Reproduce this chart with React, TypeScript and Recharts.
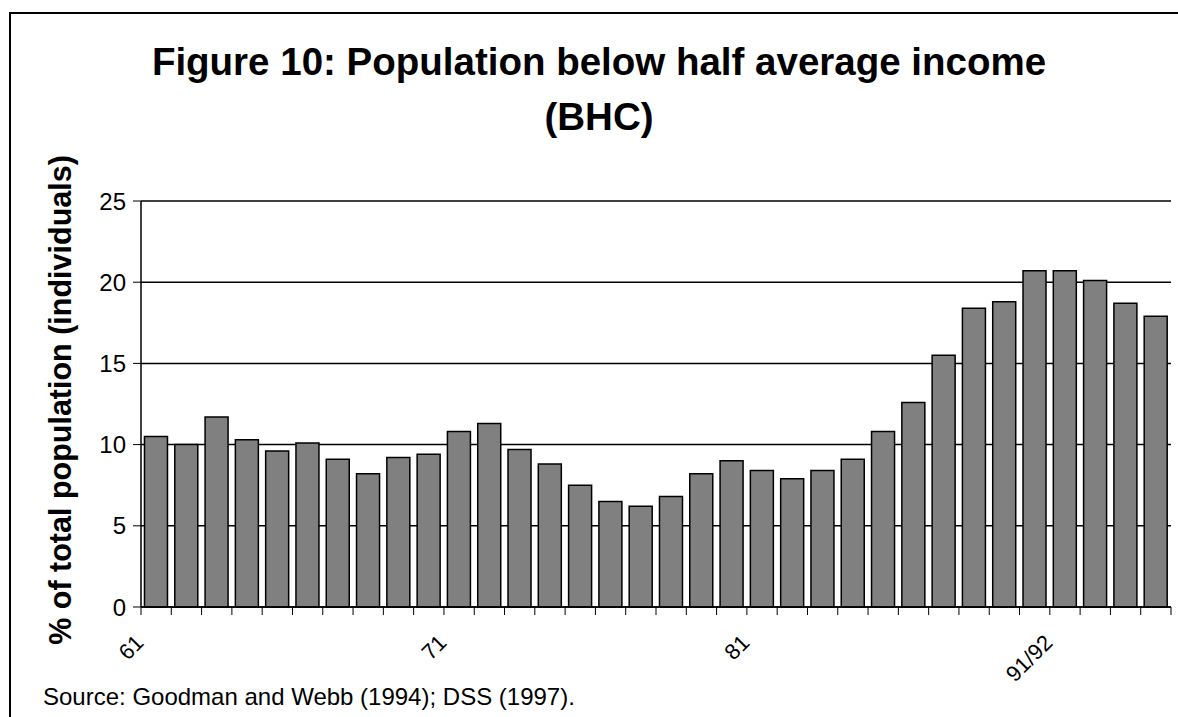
import React from 'react';
import { BarChart, Bar, XAxis, YAxis, CartesianGrid } from 'recharts';

const years = [
  '61', '62', '63', '64', '65', '66', '67', '68', '69', '70',
  '71', '72', '73', '74', '75', '76', '77', '78', '79', '80',
  '81', '82', '83', '84', '85', '86', '87', '88', '89', '90',
  '91/92', '92/93', '93/94', '94/95',
];

// % of total population (individuals), below half average income (BHC)
const belowHalf = [
  10.5, 10.0, 11.7, 10.3, 9.6, 10.1, 9.1, 8.2, 9.2, 9.4,
  10.8, 11.3, 9.7, 8.8, 7.5, 6.5, 6.2, 6.8, 8.2, 9.0,
  8.4, 7.9, 8.4, 9.1, 10.8, 12.6, 15.5, 18.4, 18.8, 20.7,
  20.7, 20.1, 18.7, 17.9,
];

const yTicks = [0, 5, 10, 15, 20, 25];
const shownYears = ['61', '71', '81', '91/92'];

const data = years.map((year, i) => ({ year, value: belowHalf[i] }));

const FONT = "Arial, 'Liberation Sans', sans-serif";
const W = 1178;
const H = 717;
const M = { top: 201, right: 7, bottom: 80, left: 81 };
const Y_AXIS_W = 60;
const PLOT_W = W - M.left - M.right - Y_AXIS_W;
const BAND = PLOT_W / years.length;

// ticks sit on the category boundaries, labels hang off them at 45 degrees
const YearTick = (props: any) => {
  const { x, y, payload, index } = props;
  const left = x - BAND / 2;
  const lx = left + 4;
  const ly = y + 37;
  return (
    <g>
      <line x1={left} y1={y} x2={left} y2={y + 8} stroke="#000" strokeWidth={1} />
      {index === years.length - 1 && (
        <line x1={x + BAND / 2} y1={y} x2={x + BAND / 2} y2={y + 8} stroke="#000" strokeWidth={1} />
      )}
      {shownYears.includes(payload.value) && (
        <text
          x={lx}
          y={ly}
          textAnchor="end"
          transform={`rotate(-45, ${lx}, ${ly})`}
          fontFamily={FONT}
          fontSize={22}
          fill="#000"
        >
          {payload.value}
        </text>
      )}
    </g>
  );
};

export default function App() {
  return (
    <div style={{ position: 'absolute', left: 0, top: 0, width: W, height: H, overflow: 'hidden', background: '#fff' }}>
      {/* outer frame */}
      <div style={{ position: 'absolute', left: 9, top: 12, width: 1300, height: 900, border: '2px solid #000', boxSizing: 'border-box' }} />

      <svg width={W} height={H} style={{ position: 'absolute', left: 0, top: 0 }}>
        <text x={599} y={75} textAnchor="middle" fontFamily={FONT} fontWeight="bold" fontSize={38.5} fill="#000">
          Figure 10: Population below half average income
        </text>
        <text x={599} y={130} textAnchor="middle" fontFamily={FONT} fontWeight="bold" fontSize={38.5} fill="#000">
          (BHC)
        </text>
        <text
          x={71}
          y={400}
          textAnchor="middle"
          transform="rotate(-90, 71, 400)"
          fontFamily={FONT}
          fontWeight="bold"
          fontSize={30.5}
          fill="#000"
        >
          % of total population (individuals)
        </text>
        <text x={43} y={705} fontFamily={FONT} fontSize={24} fill="#000">
          Source: Goodman and Webb (1994); DSS (1997).
        </text>
      </svg>

      <div style={{ position: 'absolute', left: 0, top: 0 }}>
        <BarChart width={W} height={H} data={data} margin={M} barCategoryGap="11.5%">
          <CartesianGrid vertical={false} stroke="#000" strokeWidth={1.5} />
          <XAxis
            dataKey="year"
            interval={0}
            height={30}
            tickLine={false}
            tickSize={0}
            tickMargin={0}
            axisLine={{ stroke: '#000', strokeWidth: 1.5 }}
            tick={<YearTick />}
          />
          <YAxis
            width={Y_AXIS_W}
            domain={[0, 25]}
            ticks={yTicks}
            tickSize={8}
            tickMargin={7}
            tickLine={{ stroke: '#000' }}
            axisLine={{ stroke: '#000', strokeWidth: 1.5 }}
            tick={{ fill: '#000', fontSize: 24, fontFamily: FONT }}
          />
          <YAxis
            yAxisId="frame"
            orientation="right"
            width={0}
            domain={[0, 25]}
            tick={false}
            tickLine={false}
            axisLine={{ stroke: '#000', strokeWidth: 1.5 }}
          />
          <Bar dataKey="value" fill="#808080" stroke="#000" strokeWidth={1.5} isAnimationActive={false} />
        </BarChart>
      </div>
    </div>
  );
}
